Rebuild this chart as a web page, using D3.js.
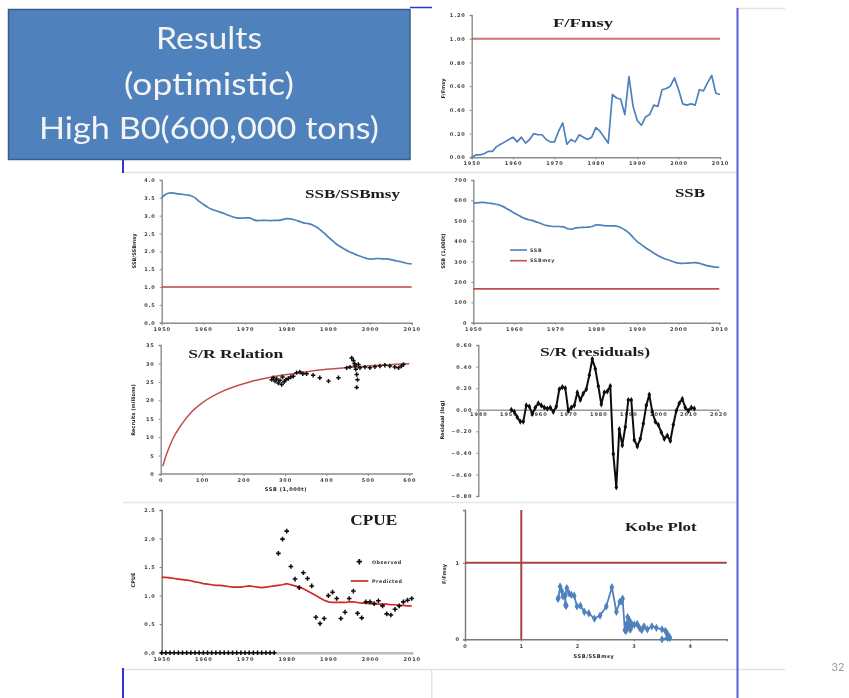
<!DOCTYPE html>
<html><head><meta charset="utf-8">
<script src="https://cdn.jsdelivr.net/npm/d3@7"></script>
<style>body{margin:0;background:#fff}svg{display:block}</style>
</head><body>
<svg id="slide" width="849" height="698"></svg>
<script>
// ---- data ----
const years = d3.range(1950, 2011);
const fRatio = [0.00,0.02,0.02,0.03,0.05,0.05,0.09,0.11,0.13,0.15,
  0.17,0.13,0.17,0.12,0.15,0.20,0.19,0.19,0.15,0.13,
  0.13,0.22,0.29,0.11,0.15,0.13,0.19,0.17,0.15,0.17,
  0.25,0.22,0.17,0.12,0.53,0.50,0.49,0.36,0.68,0.43,
  0.31,0.27,0.34,0.36,0.44,0.43,0.57,0.58,0.60,0.67,
  0.57,0.45,0.44,0.45,0.44,0.57,0.56,0.63,0.69,0.54,0.53];
const ssbRatio = [3.50,3.60,3.64,3.63,3.61,3.60,3.58,3.56,3.50,3.40,
  3.32,3.24,3.18,3.14,3.10,3.06,3.01,2.97,2.94,2.93,
  2.94,2.94,2.89,2.86,2.87,2.87,2.86,2.87,2.87,2.89,
  2.92,2.91,2.88,2.84,2.80,2.78,2.75,2.69,2.61,2.51,
  2.40,2.30,2.20,2.12,2.05,1.99,1.94,1.89,1.85,1.81,
  1.78,1.79,1.80,1.79,1.79,1.77,1.74,1.72,1.69,1.66,1.65];
const ssb = [587,588,590,589,586,583,579,572,562,550,
  538,527,516,508,503,497,490,482,476,473,
  472,472,470,461,459,465,467,468,469,472,
  480,479,476,475,475,474,466,455,440,418,
  398,383,368,355,342,330,320,311,305,298,
  292,291,292,293,295,292,286,280,276,273,272];
const ssbMsy = 166;
const fMsyRef = 1.0, ssbMsyRef = 1.0;

// stock-recruitment fit (curve) and observed pairs
const srCurveSSB = [5,10,20,30,50,75,100,150,200,250,300,350,400,500,600];
const srCurveRec = [2.1,4.0,7.1,9.7,13.4,16.9,19.3,22.5,24.5,25.9,26.9,27.7,28.4,29.3,29.9];
const srObsSSB = [268,272,276,280,284,288,292,294,298,302,308,314,320,328,336,343,352,368,384,405,429,
  449,457,461,465,468,469,471,473,475,473,477,481,
  493,505,517,529,541,553,565,574,581,586];
const srObsRec = [25.6,26.1,25.2,25.8,24.7,25.4,24.3,26.3,25.0,25.6,25.9,26.3,26.5,27.5,27.7,27.2,27.2,26.8,26.1,25.2,26.1,
  28.8,29.0,31.5,30.8,29.9,29.3,28.4,27.0,25.6,23.5,29.7,28.8,
  29.0,28.8,29.1,29.3,29.5,29.3,29.0,28.8,29.3,29.7];

// recruitment residuals 1951-2012
const resYears = d3.range(1951, 2013);
const residuals = [0.00,-0.02,-0.07,-0.11,-0.11,0.04,0.03,-0.04,0.02,0.06,
  0.04,0.02,0.01,0.02,-0.02,0.03,0.19,0.21,0.20,-0.01,
  0.02,0.04,0.16,0.09,0.15,0.19,0.32,0.47,0.38,0.22,
  0.05,0.16,0.17,0.22,-0.41,-0.72,-0.18,-0.33,-0.16,0.09,
  0.09,-0.28,-0.34,-0.27,-0.13,0.04,0.14,-0.02,-0.11,-0.14,
  -0.21,-0.27,-0.24,-0.29,-0.14,-0.01,0.06,0.10,0.02,-0.01,0.02,0.01];

// CPUE: observed (0 = no index before 1978) and predicted
const cpueObserved = [0,0,0,0,0,0,0,0,0,0, 0,0,0,0,0,0,0,0,0,0, 0,0,0,0,0,0,0,0,
  1.74,1.99,2.13,1.51,1.29,1.14,1.40,1.30,1.17,0.62,0.51,0.60,
  1.00,1.06,0.95,0.60,0.71,0.95,1.08,0.69,0.61,0.89,
  0.89,0.86,0.91,0.82,0.68,0.66,0.76,0.82,0.89,0.92,0.95];
const cpuePredicted = [1.32,1.32,1.31,1.30,1.29,1.28,1.27,1.26,1.24,1.23,
  1.21,1.20,1.19,1.18,1.18,1.17,1.16,1.15,1.15,1.15,
  1.16,1.17,1.16,1.15,1.14,1.15,1.16,1.17,1.18,1.19,
  1.21,1.19,1.17,1.15,1.12,1.08,1.04,1.00,0.96,0.92,
  0.89,0.88,0.88,0.88,0.88,0.89,0.89,0.88,0.87,0.87,
  0.86,0.86,0.85,0.85,0.85,0.84,0.84,0.83,0.83,0.82,0.82];

const yearTicks = [1950,1960,1970,1980,1990,2000,2010];
const resYearTicks = [1940,1950,1960,1970,1980,1990,2000,2010,2020];
const titleLines = ["Results", "(optimistic)", "High B0(600,000 tons)"];

// ---- drawing ----
const BLUE = "#4f81bd", RED = "#c0504d", AXIS = "#8c8c8c";
const svg = d3.select("#slide");
const defs = svg.append("defs");
defs.append("filter").attr("id", "soft").append("feGaussianBlur").attr("stdDeviation", 0.6);
defs.append("filter").attr("id", "softer").append("feGaussianBlur").attr("stdDeviation", 0.45);

// slide frame
const frame = svg.append("g").attr("filter", "url(#softer)");
frame.append("line").attr("x1",123).attr("x2",737).attr("y1",172.5).attr("y2",172.5).attr("stroke","#e2e2e2").attr("stroke-width",1.5);
frame.append("line").attr("x1",123).attr("x2",737).attr("y1",502.5).attr("y2",502.5).attr("stroke","#e6e6e6").attr("stroke-width",1.5);
frame.append("line").attr("x1",123).attr("x2",785).attr("y1",669.5).attr("y2",669.5).attr("stroke","#e2e2e2").attr("stroke-width",1.5);
frame.append("line").attr("x1",737).attr("x2",785).attr("y1",8.5).attr("y2",8.5).attr("stroke","#e2e2e2").attr("stroke-width",1.5);
frame.append("line").attr("x1",431.7).attr("x2",431.7).attr("y1",669).attr("y2",698).attr("stroke","#e2e2e2").attr("stroke-width",1.5);
frame.append("line").attr("x1",737.5).attr("x2",737.5).attr("y1",8).attr("y2",698).attr("stroke","#5a5ae6").attr("stroke-width",2);
frame.append("line").attr("x1",123).attr("x2",123).attr("y1",159).attr("y2",173).attr("stroke","#3030d0").attr("stroke-width",2);
frame.append("line").attr("x1",123).attr("x2",123).attr("y1",668).attr("y2",698).attr("stroke","#3030d0").attr("stroke-width",2);
frame.append("line").attr("x1",410).attr("x2",432).attr("y1",7.5).attr("y2",7.5).attr("stroke","#3030d0").attr("stroke-width",1.5);
frame.append("text").attr("x",838).attr("y",671).attr("text-anchor","middle")
  .attr("font-family","Lato, 'Open Sans', sans-serif").attr("font-size",11).attr("fill","#9a9a9a").text("32");

// title box
const box = svg.append("g").attr("filter", "url(#softer)");
box.append("rect").attr("x",8.5).attr("y",9.5).attr("width",401.5).attr("height",150)
  .attr("fill","#4f81bd").attr("stroke","#385d8a").attr("stroke-width",1.5);
const boxText = [{y:49.3,w:106},{y:95,w:170},{y:139.3,w:340}];
box.selectAll("text.boxline").data(titleLines).join("text").attr("class","boxline")
  .attr("x",209).attr("y",(d,i)=>boxText[i].y).attr("text-anchor","middle")
  .attr("font-family","Lato, 'Open Sans', sans-serif").attr("font-size",31).attr("fill","#f4f4f4")
  .attr("textLength",(d,i)=>boxText[i].w).attr("lengthAdjust","spacingAndGlyphs").text(d=>d);

const root = svg.append("g").attr("filter", "url(#soft)");

// helpers
function styleAxis(g, color) {
  g.select(".domain").attr("stroke", color || AXIS).attr("stroke-width", 1.4);
  g.selectAll(".tick line").attr("stroke", color || AXIS).attr("stroke-width", 1);
  g.selectAll(".tick text").attr("font-family","'DejaVu Sans', sans-serif").attr("font-size",5)
    .attr("font-weight","bold").attr("letter-spacing",0.9).attr("fill","#4b3f36");
}
function title(txt, cx, base, w, size) {
  root.append("text").attr("x",cx).attr("y",base).attr("text-anchor","middle")
    .attr("font-family","'Liberation Serif', serif").attr("font-weight","bold")
    .attr("font-size",size||12.5).attr("fill","#1a1a1a")
    .attr("textLength",w).attr("lengthAdjust","spacingAndGlyphs").text(txt);
}
function vLabel(txt, x, cy) {
  root.append("text").attr("transform",`translate(${x},${cy}) rotate(-90)`).attr("text-anchor","middle")
    .attr("font-family","'DejaVu Sans', sans-serif").attr("font-size",5).attr("font-weight","bold")
    .attr("fill","#222").text(txt);
}
function hLabel(txt, cx, y) {
  root.append("text").attr("x",cx).attr("y",y).attr("text-anchor","middle")
    .attr("font-family","'DejaVu Sans', sans-serif").attr("font-size",5).attr("font-weight","bold")
    .attr("letter-spacing",0.6).attr("fill","#222").text(txt);
}
function yearAxes(x, y, yTicks, yFmt) {
  const gx = root.append("g").attr("transform",`translate(0,${y.range()[0]})`)
    .call(d3.axisBottom(x).tickValues(yearTicks).tickFormat(d3.format("d")).tickSize(2).tickPadding(2.5));
  styleAxis(gx);
  const gy = root.append("g").attr("transform",`translate(${x.range()[0]},0)`)
    .call(d3.axisLeft(y).tickValues(yTicks).tickFormat(yFmt).tickSize(2).tickPadding(4));
  styleAxis(gy);
}
const lineYear = (x, y) => d3.line().x((d,i)=>x(years[i])).y(d=>y(d));

// 1. F/Fmsy
{
  const x = d3.scaleLinear().domain([1950,2010]).range([471.7,720]);
  const y = d3.scaleLinear().domain([0,1.2]).range([157.3,15]);
  yearAxes(x, y, [0,0.2,0.4,0.6,0.8,1.0,1.2], d3.format(".2f"));
  root.append("line").attr("x1",x(1950)).attr("x2",x(2010)).attr("y1",y(fMsyRef)).attr("y2",y(fMsyRef))
    .attr("stroke",RED).attr("stroke-opacity",0.8).attr("stroke-width",2);
  root.append("path").datum(fRatio).attr("d",lineYear(x,y)).attr("fill","none")
    .attr("stroke",BLUE).attr("stroke-width",1.7).attr("stroke-linejoin","round");
  title("F/Fmsy", 583, 27.3, 60);
  vLabel("F/Fmsy", 445, 88.5);
}
// 2. SSB/SSBmsy
{
  const x = d3.scaleLinear().domain([1950,2010]).range([161.7,411.7]);
  const y = d3.scaleLinear().domain([0,4]).range([322.7,180]);
  yearAxes(x, y, d3.range(0,4.01,0.5), d3.format(".1f"));
  root.append("line").attr("x1",x(1950)).attr("x2",x(2010)).attr("y1",y(ssbMsyRef)).attr("y2",y(ssbMsyRef))
    .attr("stroke",RED).attr("stroke-opacity",0.8).attr("stroke-width",2);
  root.append("path").datum(ssbRatio).attr("d",lineYear(x,y).curve(d3.curveMonotoneX)).attr("fill","none")
    .attr("stroke",BLUE).attr("stroke-width",1.7);
  title("SSB/SSBmsy", 352.5, 198.3, 95);
  vLabel("SSB/SSBmsy", 136, 251);
}
// 3. SSB
{
  const x = d3.scaleLinear().domain([1950,2010]).range([473.3,719.3]);
  const y = d3.scaleLinear().domain([0,700]).range([322.7,180]);
  yearAxes(x, y, d3.range(0,701,100), d3.format("d"));
  root.append("line").attr("x1",x(1950)).attr("x2",x(2010)).attr("y1",y(ssbMsy)).attr("y2",y(ssbMsy))
    .attr("stroke",RED).attr("stroke-width",1.6);
  root.append("path").datum(ssb).attr("d",lineYear(x,y).curve(d3.curveMonotoneX)).attr("fill","none")
    .attr("stroke",BLUE).attr("stroke-width",1.7);
  const lg = [{c:BLUE,t:"SSB",y:250},{c:RED,t:"SSBmsy",y:260.7}];
  lg.forEach(l=>{
    root.append("line").attr("x1",510).attr("x2",527).attr("y1",l.y).attr("y2",l.y).attr("stroke",l.c).attr("stroke-width",1.6);
    root.append("text").attr("x",530).attr("y",l.y+1.7).attr("font-family","'DejaVu Sans', sans-serif")
      .attr("font-size",4.8).attr("font-weight","bold").attr("letter-spacing",0.6).attr("fill","#333").text(l.t);
  });
  title("SSB", 690, 197.3, 30);
  vLabel("SSB (1,000t)", 445, 251);
}
// 4. S/R Relation
{
  const x = d3.scaleLinear().domain([0,600]).range([160.7,409.3]);
  const y = d3.scaleLinear().domain([0,35]).range([474,345]);
  const gx = root.append("g").attr("transform",`translate(0,${y(0)})`)
    .call(d3.axisBottom(x).tickValues(d3.range(0,601,100)).tickFormat(d3.format("d")).tickSize(2).tickPadding(2.5));
  gx.select(".domain").attr("d","M160.7,0H413");
  styleAxis(gx);
  const gy = root.append("g").attr("transform",`translate(${x(0)},0)`)
    .call(d3.axisLeft(y).tickValues(d3.range(0,36,5)).tickFormat(d3.format("d")).tickSize(2).tickPadding(4));
  styleAxis(gy);
  root.append("path").datum(srCurveSSB).attr("fill","none").attr("stroke",RED).attr("stroke-width",1.5)
    .attr("d", d3.line().x(d=>x(d)).y((d,i)=>y(srCurveRec[i])).curve(d3.curveMonotoneX));
  root.selectAll("path.srpt").data(srObsSSB).join("path").attr("class","srpt")
    .attr("transform",(d,i)=>`translate(${x(d)},${y(srObsRec[i])})`)
    .attr("d", d3.symbol(d3.symbolCross, 11)).attr("fill","#111");
  title("S/R Relation", 235.8, 358.3, 95);
  vLabel("Recruits (millions)", 135, 410);
  hLabel("SSB (1,000t)", 286, 491);
}
// 5. S/R residuals
{
  const x = d3.scaleLinear().domain([1940,2020]).range([478.3,718.3]);
  const y = d3.scaleLinear().domain([-0.8,0.6]).range([496,345]);
  const gx = root.append("g").attr("transform",`translate(0,${y(0)})`)
    .call(d3.axisBottom(x).tickValues(resYearTicks).tickFormat(d3.format("d")).tickSize(1.5).tickPadding(1.5));
  styleAxis(gx, "#9a9a9a");
  const gy = root.append("g").attr("transform",`translate(${x(1940)},0)`)
    .call(d3.axisLeft(y).tickValues([-0.8,-0.6,-0.4,-0.2,0,0.2,0.4,0.6]).tickFormat(d3.format(".2f")).tickSize(2).tickPadding(4));
  styleAxis(gy);
  root.append("path").datum(residuals).attr("fill","none").attr("stroke","#111").attr("stroke-width",2)
    .attr("stroke-linejoin","round").attr("d", d3.line().x((d,i)=>x(resYears[i])).y(d=>y(d)));
  root.selectAll("path.respt").data(residuals).join("path").attr("class","respt")
    .attr("transform",(d,i)=>`translate(${x(resYears[i])},${y(d)})`)
    .attr("d", d3.symbol(d3.symbolDiamond, 11)).attr("fill","#111");
  title("S/R (residuals)", 595, 355.7, 110);
  vLabel("Residual (log)", 444, 420);
}
// 6. CPUE
{
  const x = d3.scaleLinear().domain([1950,2010]).range([161.7,411.7]);
  const y = d3.scaleLinear().domain([0,2.5]).range([652.7,510]);
  const gx = root.append("g").attr("transform",`translate(0,${y(0)})`)
    .call(d3.axisBottom(x).tickValues(yearTicks).tickFormat(d3.format("d")).tickSize(2).tickPadding(3));
  styleAxis(gx, "#bdbdbd");
  gx.select(".domain").attr("stroke-width",2.6);
  const gy = root.append("g").attr("transform",`translate(${x(1950)},0)`)
    .call(d3.axisLeft(y).tickValues(d3.range(0,2.51,0.5)).tickFormat(d3.format(".1f")).tickSize(2).tickPadding(4));
  styleAxis(gy, "#777");
  root.append("path").datum(cpuePredicted).attr("d",lineYear(x,y)).attr("fill","none")
    .attr("stroke","#d02a24").attr("stroke-width",1.7);
  root.selectAll("path.cpt").data(cpueObserved).join("path").attr("class","cpt")
    .attr("transform",(d,i)=>`translate(${x(years[i])},${y(d)})`)
    .attr("d", d3.symbol(d3.symbolCross, 12)).attr("fill","#111");
  root.append("path").attr("transform","translate(359.3,561.7)").attr("d", d3.symbol(d3.symbolCross, 16)).attr("fill","#111");
  root.append("line").attr("x1",350.7).attr("x2",368.3).attr("y1",581).attr("y2",581).attr("stroke","#d02a24").attr("stroke-width",1.7);
  [{t:"Observed",y:564},{t:"Predicted",y:583}].forEach(l=>
    root.append("text").attr("x",372).attr("y",l.y).attr("font-family","'DejaVu Sans', sans-serif")
      .attr("font-size",4.8).attr("font-weight","bold").attr("letter-spacing",0.5).attr("fill","#333").text(l.t));
  title("CPUE", 373.7, 525, 47, 14.5);
  vLabel("CPUE", 135, 580);
}
// 7. Kobe plot
{
  const x = d3.scaleLinear().domain([0,4.65]).range([465,726.7]);
  const y = d3.scaleLinear().domain([0,1.69]).range([639.3,510]);
  const gx = root.append("g").attr("transform",`translate(0,${y(0)})`)
    .call(d3.axisBottom(x).tickValues([0,1,2,3,4]).tickFormat(d3.format("d")).tickSize(2).tickPadding(3));
  styleAxis(gx, "#7a7a7a");
  const gy = root.append("g").attr("transform",`translate(${x(0)},0)`)
    .call(d3.axisLeft(y).tickValues([0,1]).tickFormat(d3.format("d")).tickSize(2).tickPadding(3));
  styleAxis(gy, "#7a7a7a");
  root.append("line").attr("x1",x(ssbMsyRef)).attr("x2",x(ssbMsyRef)).attr("y1",y(1.69)).attr("y2",y(0))
    .attr("stroke","#a84442").attr("stroke-width",2);
  root.append("line").attr("x1",x(0)).attr("x2",x(4.65)).attr("y1",y(fMsyRef)).attr("y2",y(fMsyRef))
    .attr("stroke","#a84442").attr("stroke-width",2);
  root.append("path").datum(ssbRatio).attr("fill","none").attr("stroke",BLUE).attr("stroke-width",1.8)
    .attr("d", d3.line().x(d=>x(d)).y((d,i)=>y(fRatio[i])));
  root.selectAll("path.kpt").data(ssbRatio).join("path").attr("class","kpt")
    .attr("transform",(d,i)=>`translate(${x(d)},${y(fRatio[i])})`)
    .attr("d", d3.symbol(d3.symbolDiamond, 20)).attr("fill",BLUE);
  title("Kobe Plot", 660.8, 530.7, 71.7);
  vLabel("F/Fmsy", 446, 574);
  hLabel("SSB/SSBmsy", 594, 658);
}
</script>
</body></html>
